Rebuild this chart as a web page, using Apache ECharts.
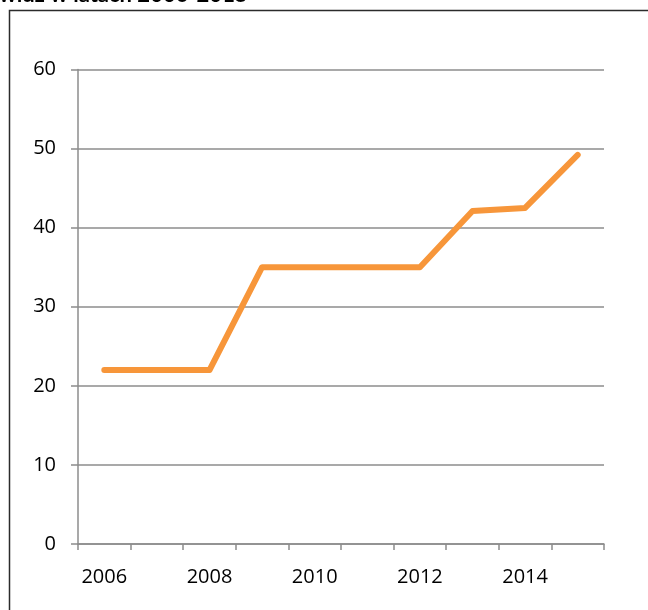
<!DOCTYPE html>
<html>
<head>
<meta charset="utf-8">
<script src="https://cdn.jsdelivr.net/npm/echarts@6/dist/echarts.min.js"></script>
<style>
  html, body { margin: 0; padding: 0; background: #ffffff; }
  #chart { width: 648px; height: 610px; }
</style>
</head>
<body>
<div id="chart"></div>
<script>
// Years on the horizontal axis
const years = ['2006', '2007', '2008', '2009', '2010', '2011', '2012', '2013', '2014', '2015'];
// Values for each year
const values = [22, 22, 22, 35, 35, 35, 35, 42.1, 42.5, 49.2];
// Vertical axis range
const yMin = 0;
const yMax = 60;
const yStep = 10;

const titleText = 'widz w latach 2006-2015';
const labelFont = '"Open Sans", Lato, sans-serif';

const chart = echarts.init(document.getElementById('chart'), null, { renderer: 'canvas' });

chart.setOption({
  backgroundColor: '#ffffff',
  animation: false,
  grid: { left: 78, right: 44, top: 69.5, bottom: 66, containLabel: false },
  graphic: [
    {
      type: 'rect',
      shape: { x: 9.5, y: 10.5, width: 700, height: 700 },
      style: { fill: 'none', stroke: '#2b2b2b', lineWidth: 1.5 },
      silent: true
    },
    {
      type: 'text',
      left: -1,
      top: -16,
      style: {
        text: titleText,
        font: 'bold 22px Lato, sans-serif',
        fill: '#000000'
      },
      silent: true
    }
  ],
  xAxis: {
    type: 'category',
    data: years,
    boundaryGap: true,
    axisLine: { show: true, lineStyle: { color: '#8c8c8c', width: 1.5 } },
    axisTick: { show: true, interval: 0, length: 6, lineStyle: { color: '#8c8c8c', width: 1.5 } },
    axisLabel: {
      interval: 1,
      margin: 23,
      color: '#000000',
      fontFamily: labelFont,
      fontSize: 20
    },
    splitLine: { show: false }
  },
  yAxis: {
    type: 'value',
    min: yMin,
    max: yMax,
    interval: yStep,
    axisLine: { show: true, lineStyle: { color: '#8c8c8c', width: 1.5 } },
    axisTick: { show: true, length: 7, lineStyle: { color: '#8c8c8c', width: 1.5 } },
    axisLabel: {
      margin: 22,
      color: '#000000',
      fontFamily: labelFont,
      fontSize: 20
    },
    splitLine: { show: true, lineStyle: { color: '#8c8c8c', width: 1.5 } }
  },
  series: [
    {
      type: 'line',
      data: values,
      showSymbol: false,
      symbol: 'none',
      lineStyle: { color: '#f7963a', width: 6, cap: 'round', join: 'round' },
      itemStyle: { color: '#f7963a' }
    }
  ]
});
</script>
</body>
</html>
